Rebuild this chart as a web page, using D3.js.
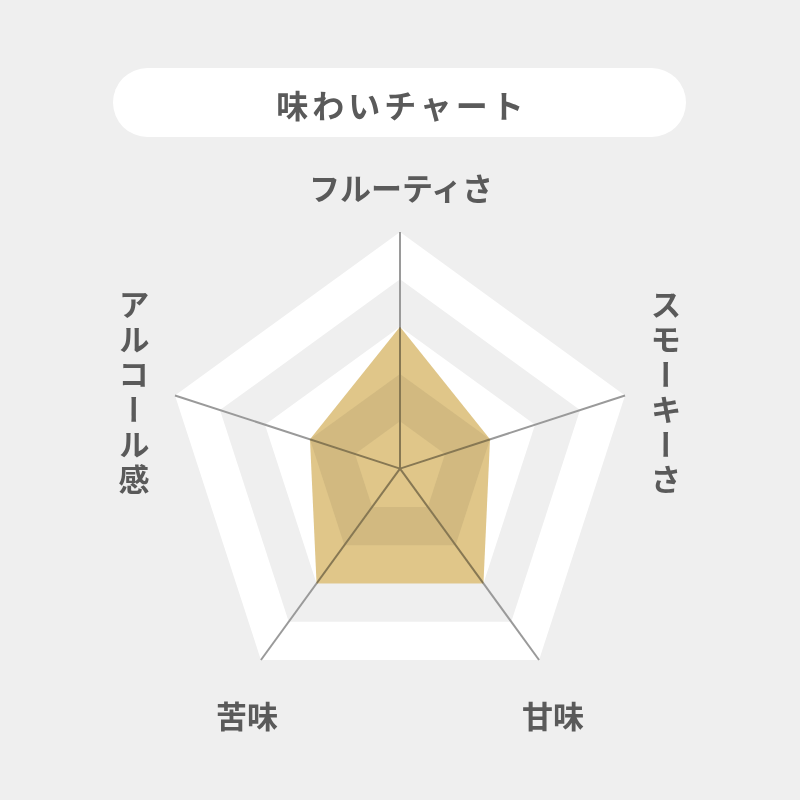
<!DOCTYPE html>
<html>
<head>
<meta charset="utf-8">
<script src="https://cdn.jsdelivr.net/npm/d3@7"></script>
<style>
  html, body { margin: 0; padding: 0; background: #efefef; }
  svg { display: block; }
  text { font-family: "Noto Sans CJK JP", "Noto Sans", sans-serif; font-weight: 700; fill: #5a5a5a; }
</style>
</head>
<body>
<svg id="chart" width="800" height="800"></svg>
<script>
const title = "味わいチャート";
const categories = ["フルーティさ", "スモーキーさ", "甘味", "苦味", "アルコール感"];
const values = [3, 2, 3, 3, 2];
const maxValue = 5;
const levels = [5, 4, 3, 2, 1];

const W = 800, H = 800;
const cx = 400, cy = 468.6, R = 236.6;
const svg = d3.select("#chart");

svg.append("rect").attr("width", W).attr("height", H).attr("fill", "#efefef");

// title pill
svg.append("rect")
  .attr("x", 113).attr("y", 68).attr("width", 573).attr("height", 69)
  .attr("rx", 34.5).attr("fill", "#ffffff");
svg.append("text")
  .attr("x", 400 + 2).attr("y", 104)
  .attr("text-anchor", "middle").attr("dominant-baseline", "central")
  .style("font-size", "32px").style("letter-spacing", "4px")
  .text(title);

const r = d3.scaleLinear().domain([0, maxValue]).range([0, R]);
const angle = d3.scalePoint().domain(categories.concat(["_end"])).range([0, 2 * Math.PI]);

const g = svg.append("g").attr("transform", `translate(${cx},${cy})`);

const radial = d3.lineRadial()
  .angle(d => angle(d.cat))
  .radius(d => r(d.v))
  .curve(d3.curveLinearClosed);

// grid bands
levels.forEach((lv, i) => {
  g.append("path")
    .attr("d", radial(categories.map(c => ({ cat: c, v: lv }))))
    .attr("fill", i % 2 === 0 ? "#ffffff" : "#efefef");
});

// axis lines
categories.forEach(c => {
  const a = angle(c);
  g.append("line")
    .attr("x1", 0).attr("y1", 0)
    .attr("x2", r(maxValue) * Math.sin(a))
    .attr("y2", -r(maxValue) * Math.cos(a))
    .attr("stroke", "#9a9a9a").attr("stroke-width", 2);
});

// data polygon
g.append("path")
  .attr("d", radial(categories.map((c, i) => ({ cat: c, v: values[i] }))))
  .attr("fill", "#e0c689")
  .style("mix-blend-mode", "multiply");

// labels
const labelPos = [
  { x: 401, y: 186, vertical: false },
  { x: 666, y: 394, vertical: true },
  { x: 553, y: 714, vertical: false },
  { x: 247, y: 714, vertical: false },
  { x: 134, y: 394, vertical: true }
];
categories.forEach((c, i) => {
  const p = labelPos[i];
  const t = svg.append("text")
    .attr("x", p.x).attr("y", p.y)
    .attr("text-anchor", "middle")
    .style("font-size", "31px")
    .text(c);
  if (p.vertical) {
    t.style("writing-mode", "vertical-rl").style("letter-spacing", "4px");
  } else {
    t.attr("dominant-baseline", "central");
  }
});
</script>
</body>
</html>
